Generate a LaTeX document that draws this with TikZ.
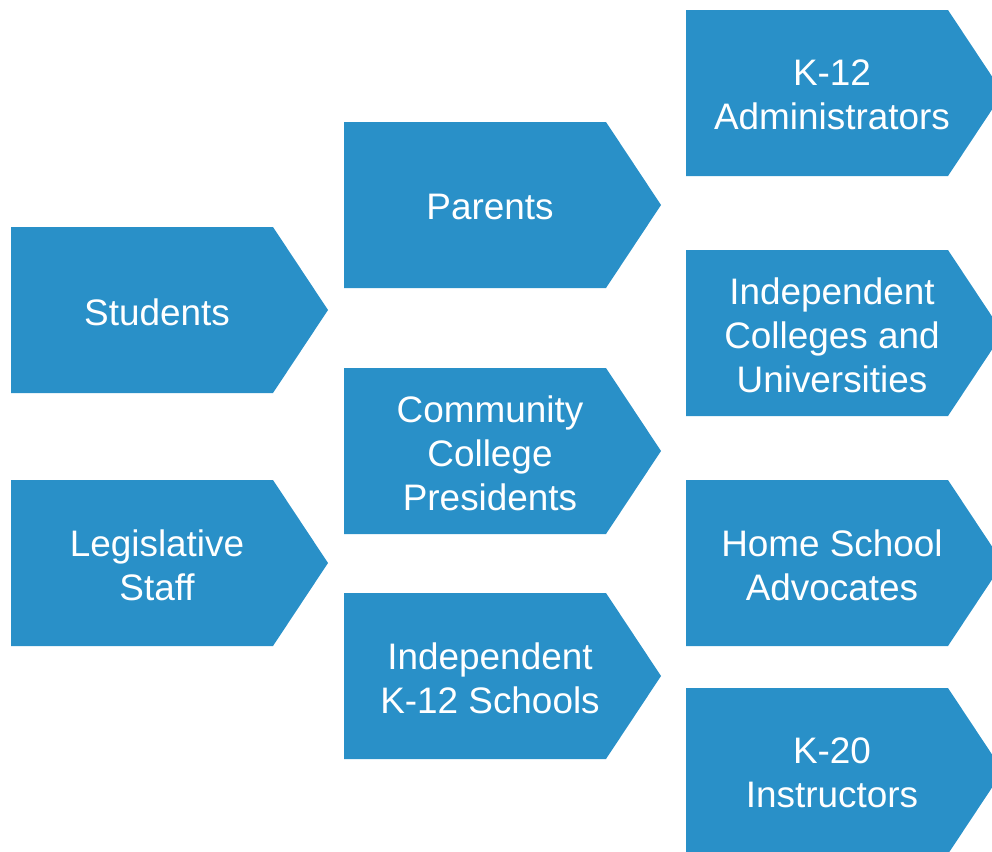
\documentclass[tikz,border=0pt]{standalone}
\usepackage{fontspec}
\setmainfont{Liberation Sans}
\usepackage{xcolor}
\definecolor{boxblue}{RGB}{41,144,200}

% one arrow-shaped box: name, left x, top y, text
\newcommand{\chevbox}[4]{%
  \fill[chev] (#2,#3) -- ++(262,0) -- ++(55,83) -- ++(-55,83) -- ++(-262,0) -- cycle;
  \node[lbl] (#1) at (#2+146,#3+85) {#4};
}

\begin{document}
\begin{tikzpicture}[
  x=0.02cm, y=-0.02cm,
  chev/.style={fill=boxblue},
  lbl/.style={text=white, align=center, inner sep=0pt, font=\fontsize{21}{25}\selectfont}
]
\useasboundingbox (0,0) rectangle (992,852);
\clip (0,0) rectangle (992,852);

% First column
\chevbox{students}{11}{227}{Students}
\chevbox{legis}{11}{480}{Legislative\\Staff}

% Second column
\chevbox{parents}{344}{122}{Parents}
\chevbox{ccpres}{344}{368}{Community\\College\\Presidents}
\chevbox{indk}{344}{593}{Independent\\K-12 Schools}

% Third column
\chevbox{kadmin}{686}{10}{K-12\\Administrators}
\chevbox{indcol}{686}{250}{Independent\\Colleges and\\Universities}
\chevbox{homesch}{686}{480}{Home School\\Advocates}
\chevbox{ktwenty}{686}{688}{K-20\\Instructors}

\end{tikzpicture}
\end{document}
